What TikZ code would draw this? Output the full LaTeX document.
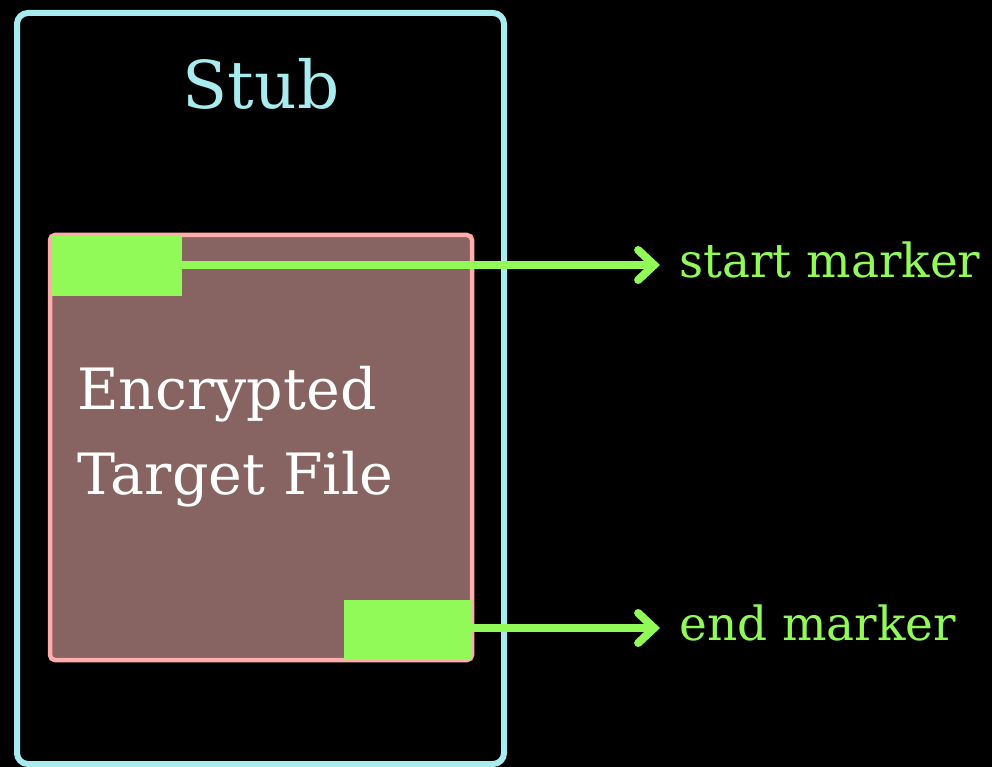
\documentclass[tikz,border=0pt]{standalone}
\usepackage{fontspec}
\setmainfont{DejaVu Serif}
\usetikzlibrary{arrows.meta}
\definecolor{stubcyan}{RGB}{168,236,240}
\definecolor{filepink}{RGB}{255,172,170}
\definecolor{filebrown}{RGB}{135,99,97}
\definecolor{markgreen}{RGB}{146,250,88}
\tikzset{
  stubbox/.style={draw=stubcyan, line width=6pt, rounded corners=11pt},
  filebox/.style={draw=filepink, fill=filebrown, line width=4.5pt, rounded corners=5pt},
  markbox/.style={fill=markgreen, draw=none},
  markarrow/.style={draw=markgreen, line width=8pt, -{Straight Barb[length=16pt,width=30pt,line cap=round]}},
  marklabel/.style={text=markgreen, font=\fontsize{47}{54}\selectfont, anchor=west, inner sep=0pt},
}
\begin{document}
\begin{tikzpicture}[x=1pt,y=-1pt]
\fill[black] (0,0) rectangle (992,767);
\useasboundingbox (0,0) rectangle (992,767);
\draw[stubbox] (17,13) rectangle (504,764);
\node[text=stubcyan, font=\fontsize{66}{74}\selectfont, inner sep=0pt] (stub) at (261,84) {Stub};
\draw[filebox] (50,235) rectangle (472,660);
\node[markbox, minimum width=130pt, minimum height=60pt, inner sep=0pt] (startm) at (117,266) {};
\node[markbox, minimum width=128pt, minimum height=60pt, inner sep=0pt] (endm) at (408,630) {};
\node[text=white, font=\fontsize{57}{85}\selectfont, align=left, anchor=north west, inner sep=0pt] (file) at (77,366) {Encrypted\\Target File};
\coordinate (starttip) at (660,265);
\coordinate (endtip) at (660,628);
\node[marklabel] (startl) at (679,260) {start marker};
\node[marklabel] (endl) at (679,623) {end marker};
\draw[markarrow] (startm.east |- starttip) -- (starttip);
\draw[markarrow] (endm.east |- endtip) -- (endtip);
\end{tikzpicture}
\end{document}
